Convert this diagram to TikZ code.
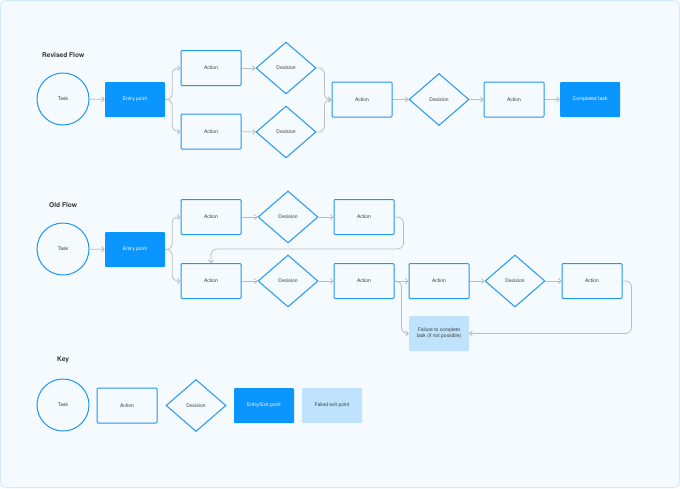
\documentclass[tikz,border=0pt]{standalone}
\usepackage{fontspec}
\setmainfont{TeX Gyre Heros}
\usetikzlibrary{shapes.geometric,arrows.meta}

\definecolor{bgfill}{HTML}{F5FAFE}
\definecolor{frameline}{HTML}{D3E9FA}
\definecolor{flowblue}{HTML}{2196F3}
\definecolor{entryblue}{HTML}{0A95FF}
\definecolor{failblue}{HTML}{BFE3FC}
\definecolor{linkgrey}{HTML}{BDBDBD}
\definecolor{textgrey}{HTML}{3A3A3A}

\begin{document}
\begin{tikzpicture}[x=1pt,y=-1pt,
    task/.style={circle,draw=flowblue,line width=1pt,minimum size=52pt,inner sep=0pt},
    action/.style={rectangle,draw=flowblue,line width=1pt,rounded corners=1pt,minimum width=60pt,minimum height=35pt,inner sep=0pt},
    decision/.style={diamond,draw=flowblue,line width=1pt,minimum width=60pt,minimum height=52pt,inner sep=0pt},
    entry/.style={rectangle,fill=entryblue,rounded corners=1pt,text=white,minimum width=60pt,minimum height=35pt,inner sep=0pt},
    failed/.style={rectangle,fill=failblue,rounded corners=1pt,minimum width=60pt,minimum height=35pt,inner sep=0pt,align=center},
    heading/.style={anchor=west,inner sep=0pt,font=\fontsize{6.6}{8}\selectfont\bfseries,text=black!80}]

    % background
    \useasboundingbox (0,0) rectangle (680,488);
    \fill[bgfill,draw=frameline,line width=1pt,rounded corners=5pt] (0.5,0.5) rectangle (679.5,487.5);

    \node[heading] (h1) at (42,55) {Revised Flow};
    \node[heading] (h2) at (49,205) {Old Flow};
    \node[heading] (h3) at (57,360) {Key};

    % revised flow
    \begin{scope}[every node/.append style={font=\fontsize{5}{6}\selectfont,text=textgrey}]
        \node[task] (t1) at (63,99) {Task};
        \node[entry] (e1) at (135,99.5) {Entry point};
        \node[action] (a1) at (211,68) {Action};
        \node[decision] (d1) at (286,68) {Decision};
        \node[action] (a2) at (211,131.5) {Action};
        \node[decision] (d2) at (286,132) {Decision};
        \node[action] (a3) at (362,99.5) {Action};
        \node[decision] (d3) at (439,99.5) {Decision};
        \node[action] (a4) at (514,99.5) {Action};
        \node[entry] (c1) at (590,99.5) {Completed task};
    \end{scope}

    % old flow
    \begin{scope}[every node/.append style={font=\fontsize{5}{6}\selectfont,text=textgrey}]
        \node[task] (t2) at (63,249) {Task};
        \node[entry] (e2) at (135,249.5) {Entry point};
        \node[action] (a5) at (211,217) {Action};
        \node[decision] (d4) at (288,217) {Decision};
        \node[action] (a7) at (364,217) {Action};
        \node[action] (a6) at (211,281) {Action};
        \node[decision] (d5) at (288,281) {Decision};
        \node[action] (a8) at (364,281) {Action};
        \node[action] (a9) at (439,281) {Action};
        \node[decision] (d6) at (515,281) {Decision};
        \node[action] (a10) at (592,281) {Action};
        \node[failed] (f1) at (439,333.5) {Failure to complete\\task (if not possible)};
    \end{scope}

    % key
    \begin{scope}[every node/.append style={font=\fontsize{5}{6}\selectfont,text=textgrey}]
        \node[task] (k1) at (63,405) {Task};
        \node[action] (k2) at (127,405.5) {Action};
        \node[decision] (k3) at (196,405.5) {Decision};
        \node[entry] (k4) at (264,405.5) {Entry/Exit point};
        \node[failed] (k5) at (332,405.5) {Failed exit point};
    \end{scope}

    \begin{scope}[every edge/.style={draw=linkgrey,line width=0.8pt}, >={Straight Barb[length=2.5pt,width=5pt]}]
        \path [->] (t1) edge (e1);
        \path [->] (a1) edge (d1);
        \path [->] (a2) edge (d2);
        \path [->] (a3) edge (d3);
        \path [->] (d3) edge (a4);
        \path [->] (a4) edge (c1);

        \path [->] (t2) edge (e2);
        \path [->] (a5) edge (d4);
        \path [->] (d4) edge (a7);
        \path [->] (a6) edge (d5);
        \path [->] (d5) edge (a8);
        \path [->] (a8) edge (a9);
        \path [->] (a9) edge (d6);
        \path [->] (d6) edge (a10);
    \end{scope}

    \begin{scope}[draw=linkgrey,line width=0.8pt,rounded corners=6pt, >={Straight Barb[length=2.5pt,width=5pt]}]
        \draw [->] (e1.east) -- ++(7,0) |- (a1.west);
        \draw [->] (e1.east) -- ++(7,0) |- (a2.west);
        \draw [->] (d1.east) -- ++(8,0) |- (a3.west);
        \draw [->] (d2.east) -- ++(8,0) |- (a3.west);

        \draw [->] (e2.east) -- ++(7,0) |- (a5.west);
        \draw [->] (e2.east) -- ++(7,0) |- (a6.west);
        \draw [->] (a7.east) -- ++(9,0) |- ([yshift=14pt]a6.north) -- (a6.north);
        \draw [->] (a8.east) -- ++(7,0) |- (f1.west);
        \draw [->] (a10.east) -- ++(9,0) |- (f1.east);
    \end{scope}

\end{tikzpicture}
\end{document}
